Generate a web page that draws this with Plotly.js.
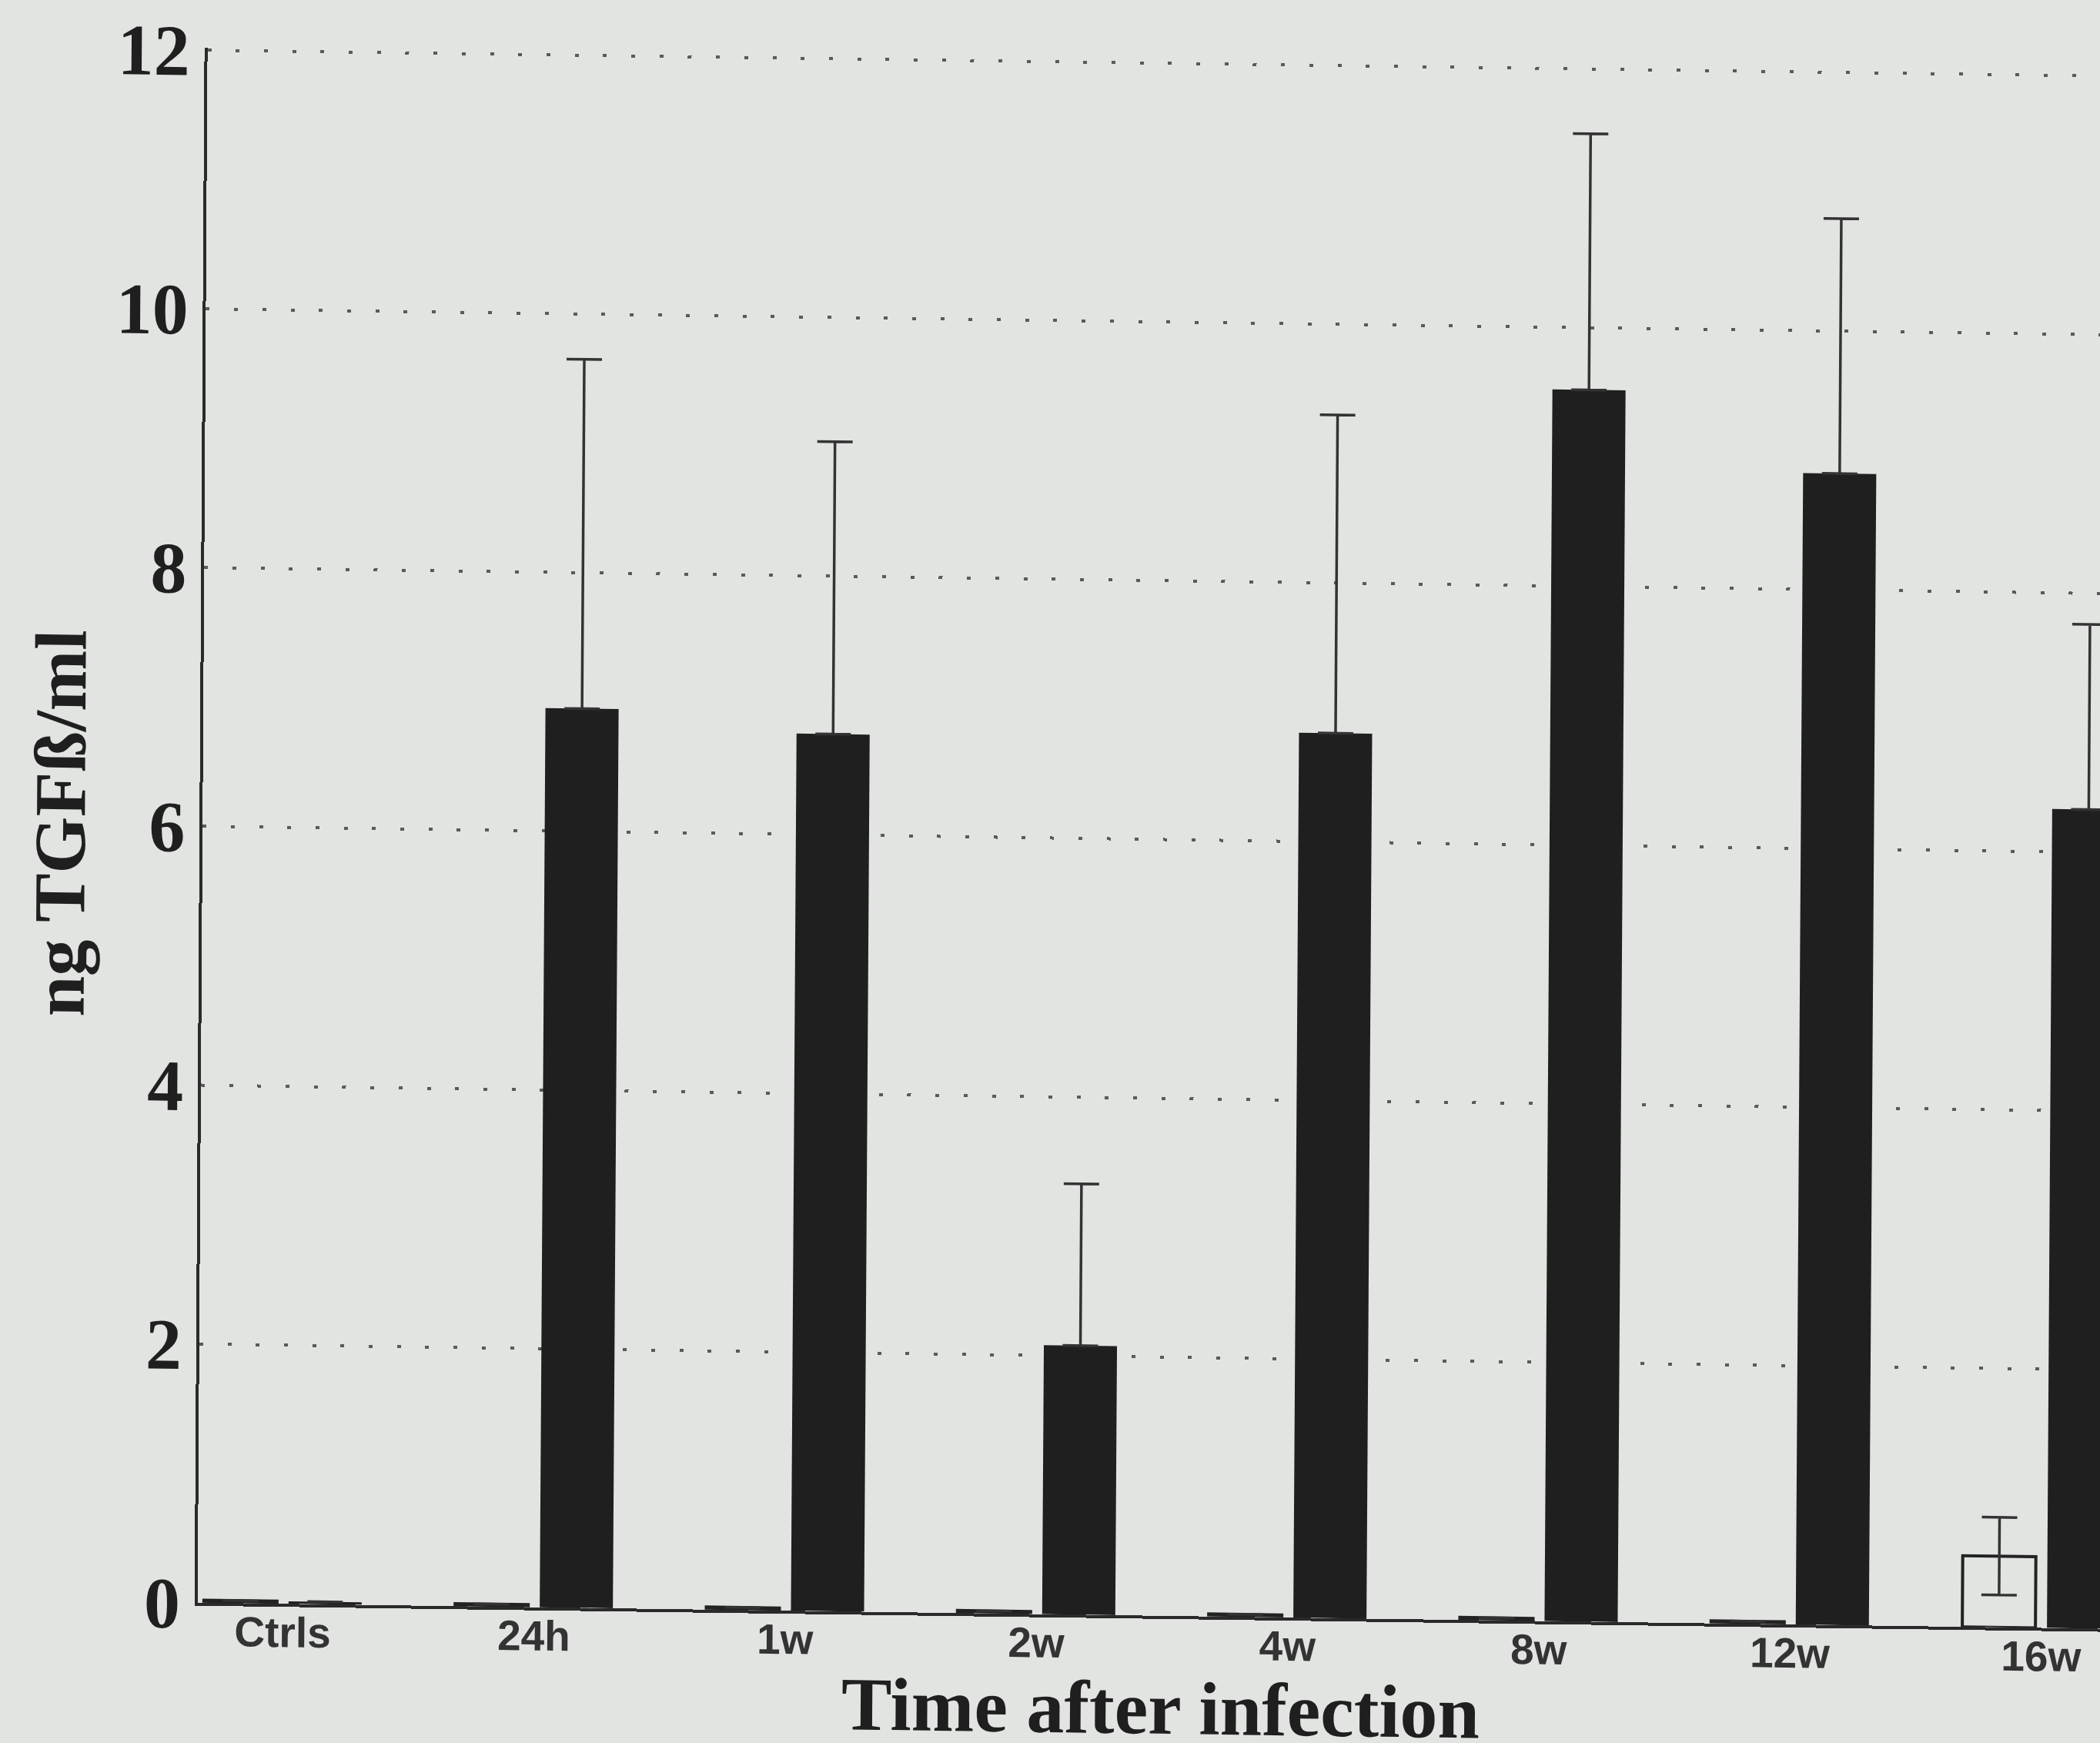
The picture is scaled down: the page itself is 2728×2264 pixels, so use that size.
<!DOCTYPE html>
<html>
<head>
<meta charset="utf-8">
<script src="https://cdn.plot.ly/plotly-3.0.1.min.js"></script>
<style>
  html, body { margin: 0; padding: 0; background: #e1e4e1; overflow: hidden; width: 2728px; height: 2264px; }
  #chart { width: 2800px; height: 2264px; transform-origin: 0 0; transform: matrix(1, 0.0137, -0.0064, 1, 0, 0); }
</style>
</head>
<body>
<div id="chart"></div>
<script>
// Categories (time after infection)
const categories = ["Ctrls", "24h", "1w", "2w", "4w", "8w", "12w", "16w"];
// Open bars (controls), ng TGFß/ml
const controlValues = [0.02, 0.02, 0.02, 0.02, 0.02, 0.02, 0.02, 0.55];
const controlErrors = [null, null, null, null, null, null, null, 0.30];
// Filled bars (infected), ng TGFß/ml
const infectedValues = [0.02, 6.95, 6.78, 2.08, 6.84, 9.52, 8.90, 6.33];
const infectedErrors = [null, 2.70, 2.26, 1.25, 2.46, 1.98, 1.97, 1.43];
const infectedErrorsMinus = [null, 0, 0, 0, 0, 0, 0, 0];
// Axis ticks and titles
const yTicks = [0, 2, 4, 6, 8, 10, 12];
const xTitle = "Time after infection";
const yTitle = "ng TGFß/ml";

const bg = "#e1e4e1";

const traces = [
  {
    type: "bar",
    name: "Controls",
    x: categories,
    y: controlValues,
    marker: { color: bg, line: { color: "#222222", width: 4 } },
    error_y: { type: "data", array: controlErrors, visible: true, color: "#333333", thickness: 3.5, width: 23 },
    hoverinfo: "x+y"
  },
  {
    type: "bar",
    name: "Infected",
    x: categories,
    y: infectedValues,
    marker: { color: "#1f1f1f", line: { color: "#1f1f1f", width: 0 } },
    error_y: { type: "data", symmetric: false, array: infectedErrors, arrayminus: infectedErrorsMinus, visible: true, color: "#333333", thickness: 3.5, width: 23 },
    hoverinfo: "x+y"
  }
];

const layout = {
  width: 2800,
  height: 2264,
  margin: { l: 270, r: 0, t: 58, b: 186 },
  paper_bgcolor: bg,
  plot_bgcolor: bg,
  showlegend: false,
  barmode: "group",
  bargap: 0.326,
  bargroupgap: 0.136,
  xaxis: {
    type: "category",
    range: [-0.339, 7.414],
    showline: true,
    linecolor: "#2a2a2a",
    linewidth: 4,
    showgrid: false,
    zeroline: false,
    ticks: "",
    ticklabelstandoff: -14,
    tickfont: { family: "Liberation Sans, Arial, sans-serif", size: 55, color: "#333333", weight: 700 },
    automargin: false
  },
  yaxis: {
    range: [0, 12.02],
    tickvals: yTicks,
    ticktext: yTicks.map(String),
    showline: true,
    linecolor: "#2a2a2a",
    linewidth: 4,
    showgrid: true,
    gridcolor: "#5a5a5a",
    gridwidth: 4,
    griddash: "5px,31.7px",
    zeroline: false,
    ticks: "",
    ticklabelstandoff: 0,
    tickfont: { family: "Liberation Serif, Times New Roman, serif", size: 94, color: "#1f1f1f", weight: 700 },
    title: {
      text: yTitle,
      font: { family: "Liberation Serif, Times New Roman, serif", size: 95, color: "#1f1f1f", weight: 700 },
      standoff: 5
    },
    automargin: false
  },
  annotations: [
    {
      text: xTitle,
      xref: "paper", yref: "paper",
      x: 0.4945, y: -0.0595,
      xanchor: "center", yanchor: "middle",
      showarrow: false,
      font: { family: "Liberation Serif, Times New Roman, serif", size: 98, color: "#1f1f1f", weight: 700 }
    }
  ]
};

Plotly.newPlot("chart", traces, layout, { displayModeBar: false, staticPlot: true });
</script>
</body>
</html>
